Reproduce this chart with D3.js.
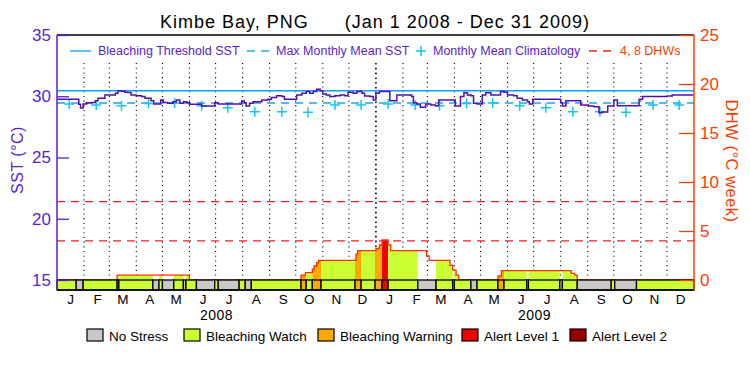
<!DOCTYPE html>
<html lang="en">
<head>
<meta charset="UTF-8">
<title>Kimbe Bay, PNG</title>
<script src="https://d3js.org/d3.v7.min.js"></script>
<style>
  body { margin: 0; background: #fff; }
  text { font-family: "Liberation Sans", Arial, sans-serif; }
</style>
</head>
<body>
<script>
// ---- data ----
const sstDates = ["2008-01-01","2008-01-21","2008-01-26","2008-01-28","2008-01-31","2008-02-04","2008-02-10","2008-02-14","2008-02-17","2008-02-25",
  "2008-03-05","2008-03-08","2008-03-11","2008-03-15","2008-03-19","2008-03-22","2008-03-26","2008-04-01","2008-04-07","2008-04-11",
  "2008-04-18","2008-04-21","2008-04-26","2008-04-29","2008-05-02","2008-05-07","2008-05-13","2008-05-17","2008-05-21","2008-05-25",
  "2008-05-29","2008-06-01","2008-06-11","2008-06-15","2008-06-26","2008-06-30","2008-07-04","2008-07-27","2008-07-31","2008-08-03",
  "2008-08-05","2008-08-09","2008-08-13","2008-08-23","2008-08-30","2008-09-03","2008-09-09","2008-09-15","2008-09-18","2008-09-28",
  "2008-10-02","2008-10-08","2008-10-13","2008-10-17","2008-10-21","2008-10-25","2008-10-29","2008-11-01","2008-11-05","2008-11-09",
  "2008-11-15","2008-11-21","2008-11-26","2008-11-30","2008-12-06","2008-12-10","2008-12-16","2008-12-19","2008-12-25","2008-12-29",
  "2009-01-01","2009-01-05","2009-01-13","2009-01-17","2009-01-21","2009-01-25","2009-02-09","2009-02-11","2009-02-13","2009-02-17",
  "2009-02-21","2009-02-27","2009-03-05","2009-03-10","2009-03-14","2009-03-30","2009-04-02","2009-04-08","2009-04-12","2009-04-16",
  "2009-04-20","2009-04-23","2009-04-27","2009-05-03","2009-05-07","2009-05-13","2009-05-18","2009-05-24","2009-05-28","2009-06-01",
  "2009-06-08","2009-06-12","2009-06-18","2009-06-24","2009-06-26","2009-06-30","2009-07-19","2009-08-01","2009-08-03","2009-08-07",
  "2009-08-18","2009-08-24","2009-09-02","2009-09-08","2009-09-14","2009-09-18","2009-09-24","2009-10-01","2009-10-05","2009-10-26",
  "2009-10-30","2009-11-03","2009-12-01","2009-12-07","2009-12-31"];
const sstValues = [29.75,29.75,29.34,29.04,29.37,29.47,29.5,29.64,29.83,30.1,
  30.1,30.24,30.45,30.4,30.32,30.3,30.1,30.05,29.97,29.83,
  29.64,29.37,29.37,29.69,29.5,29.42,29.56,29.69,29.42,29.56,
  29.47,29.34,29.34,29.2,29.2,29.47,29.37,29.37,29.61,29.47,
  29.2,29.42,29.56,29.69,29.75,29.9,30.05,29.97,29.75,29.75,
  30.1,30.24,30.38,30.24,30.38,30.57,30.45,30.18,30.1,29.97,
  30.05,30.1,30.05,30.32,30.24,30.38,30.24,30.02,29.97,29.69,
  30.24,30.38,30.38,29.64,29.64,30.1,30.1,29.97,29.47,29.37,
  29.1,29.37,29.29,29.23,29.69,29.69,29.2,29.97,30.29,30.1,
  30.05,29.42,29.37,30.1,30.29,30.1,30.1,30.38,30.32,30.1,
  30.05,29.83,29.69,29.56,29.37,29.75,29.75,29.47,29.2,29.64,
  29.64,29.29,29.2,29.15,28.66,28.72,29.2,29.69,29.23,29.23,
  29.75,29.97,30.02,30.1,30.1];

const mmm = 29.45;                 // max monthly mean
const threshold = 30.45;           // bleaching threshold (MMM + 1)
const climValues = [29.37,29.29,29.23,29.4,29.45,29.23,29.07,28.74,28.74,28.69,29.29,29.29];
const dhwLevels = [4, 8];

// degree heating weeks, step series
const dhwDates = ["2008-01-01","2008-03-10","2008-06-01","2008-10-07","2008-10-12","2008-10-20","2008-10-22","2008-10-25","2008-10-27",
  "2008-12-09","2008-12-11","2009-01-01","2009-01-05","2009-01-08","2009-01-15","2009-01-18","2009-02-28","2009-03-03",
  "2009-03-27","2009-03-30","2009-04-03","2009-04-06","2009-05-21","2009-05-25","2009-08-13","2009-08-17","2009-08-20","2010-01-01"];
const dhwValues = [0,0.5,0,0.5,0.75,1.1,1.43,1.77,2.0,
  2.65,3.0,3.23,3.57,4.08,3.57,3.0,2.45,2.0,
  1.5,1.0,0.5,0,0.41,0.95,0.68,0.5,0,0];

// daily alert status: segment start dates and level (0 none,1 watch,2 warning,3 alert1,4 alert2)
const statusStarts = ["2008-01-01","2008-01-23","2008-01-31","2008-03-10","2008-03-12","2008-04-20","2008-04-27","2008-05-01","2008-05-14",
  "2008-05-25","2008-05-28","2008-06-09","2008-06-30","2008-07-04","2008-07-28","2008-08-04","2008-08-11","2008-10-07","2008-10-13",
  "2008-10-20","2008-10-30","2008-12-08","2008-12-15","2008-12-31","2009-01-08","2009-01-15","2009-02-18","2009-03-11","2009-03-30",
  "2009-04-01","2009-04-20","2009-04-27","2009-05-21","2009-05-28","2009-06-23","2009-06-25","2009-07-31","2009-08-03","2009-08-20",
  "2009-09-28","2009-10-02","2009-10-27"];
const statusLevels = [1,0,1,1,1,0,1,0,1,
  0,1,0,1,0,1,0,1,2,1,
  2,1,2,1,2,3,1,0,1,0,
  1,0,1,2,1,0,1,0,1,0,
  1,0,1];

const monthLabels = ["J","F","M","A","M","J","J","A","S","O","N","D"];
const years = [2008, 2009];
const legendItems = ["No Stress","Bleaching Watch","Bleaching Warning","Alert Level 1","Alert Level 2"];
const statusColors = ["#c8c8c8","#ccff33","#ffa800","#f00000","#960000"];

// ---- chart ----
const w = 750, h = 375;
const mLeft = 57, mRight = 694, mTop = 35, base = 280, mBottom = 290;
const purple = "#5a1ed2", orange = "#ff3c00";
const parse = d3.timeParse("%Y-%m-%d");

const svg = d3.select("body").append("svg").attr("width", w).attr("height", h);

const x = d3.scaleTime().domain([new Date(2008,0,1), new Date(2010,0,1)]).range([mLeft, mRight]);
const ySST = d3.scaleLinear().domain([15, 35]).range([base, mTop]);
const yDHW = d3.scaleLinear().domain([0, 25]).range([base, mTop]);

const sst = sstDates.map((d, i) => [parse(d), sstValues[i]]);
const dhw = dhwDates.map((d, i) => [parse(d), dhwValues[i]]);
const status = statusStarts.map((d, i) => ({
  start: parse(d),
  end: i < statusStarts.length - 1 ? parse(statusStarts[i+1]) : new Date(2010,0,1),
  level: statusLevels[i]
}));

// title
svg.append("text").attr("x", 375).attr("y", 28).attr("text-anchor", "middle")
  .style("font-size", "18px").style("letter-spacing", "1px").style("white-space", "pre")
  .text("Kimbe Bay, PNG      (Jan 1 2008 - Dec 31 2009)");

// month dotted grid
const monthStarts = d3.timeMonth.range(new Date(2008,1,1), new Date(2010,0,1));
svg.append("g").selectAll("line").data(monthStarts).enter().append("line")
  .attr("x1", d => x(d)).attr("x2", d => x(d))
  .attr("y1", 63).attr("y2", base)
  .attr("stroke", "#000")
  .attr("stroke-width", d => d.getMonth() === 0 ? 1.6 : 1.1)
  .attr("stroke-dasharray", d => d.getMonth() === 0 ? "1.6,3.2" : "1.1,3.6");

// DHW fill, coloured by status
const area = d3.area().curve(d3.curveStepAfter)
  .x(d => x(d[0])).y0(base).y1(d => yDHW(d[1]));
const defs = svg.append("defs");
status.forEach((s, i) => {
  if (s.level === 0) return;
  defs.append("clipPath").attr("id", "clip" + i).append("rect")
    .attr("x", x(s.start)).attr("width", x(s.end) - x(s.start))
    .attr("y", mTop).attr("height", base - mTop);
  svg.append("path").datum(dhw).attr("d", area)
    .attr("fill", statusColors[s.level]).attr("clip-path", "url(#clip" + i + ")");
});

// DHW outline
svg.append("path").datum(dhw)
  .attr("d", d3.line().curve(d3.curveStepAfter).x(d => x(d[0])).y(d => yDHW(d[1])))
  .attr("fill", "none").attr("stroke", "#ff3000").attr("stroke-width", 1.3);

// 4, 8 DHW lines
svg.append("g").selectAll("line").data(dhwLevels).enter().append("line")
  .attr("x1", mLeft).attr("x2", mRight)
  .attr("y1", d => yDHW(d)).attr("y2", d => yDHW(d))
  .attr("stroke", "#f02020").attr("stroke-width", 1.2).attr("stroke-dasharray", "8,6");

// threshold and MMM
svg.append("line").attr("x1", mLeft).attr("x2", mRight)
  .attr("y1", ySST(threshold)).attr("y2", ySST(threshold))
  .attr("stroke", "#0aa0ff").attr("stroke-width", 1.3);
svg.append("line").attr("x1", mLeft).attr("x2", mRight)
  .attr("y1", ySST(mmm)).attr("y2", ySST(mmm))
  .attr("stroke", "#1aa8f0").attr("stroke-width", 1.3).attr("stroke-dasharray", "8,6");

// monthly mean climatology crosses
const clim = [];
years.forEach(yr => climValues.forEach((v, m) => clim.push([new Date(yr, m, 15), v])));
svg.append("g").selectAll("path").data(clim).enter().append("path")
  .attr("d", d => `M${x(d[0]) - 5},${ySST(d[1])}h10M${x(d[0])},${ySST(d[1]) - 5}v10`)
  .attr("stroke", "#10c8f0").attr("stroke-width", 1.5);

// SST line
svg.append("path").datum(sst)
  .attr("d", d3.line().curve(d3.curveStepAfter).x(d => x(d[0])).y(d => ySST(d[1])))
  .attr("fill", "none").attr("stroke", "#5010b4").attr("stroke-width", 1.5);

// status bar
const bar = svg.append("g");
bar.selectAll("rect").data(status).enter().append("rect")
  .attr("x", d => x(d.start)).attr("width", d => x(d.end) - x(d.start))
  .attr("y", base).attr("height", mBottom - base)
  .attr("fill", d => statusColors[d.level])
  .attr("stroke", "#000").attr("stroke-width", 1.3);

// frame
svg.append("line").attr("x1", mLeft).attr("x2", mRight).attr("y1", mTop).attr("y2", mTop).attr("stroke", "#000").attr("stroke-width", 1.3);
svg.append("line").attr("x1", mLeft).attr("x2", mRight).attr("y1", mBottom).attr("y2", mBottom).attr("stroke", "#000").attr("stroke-width", 1.3);

// left axis (SST)
const gL = svg.append("g").attr("transform", `translate(${mLeft},0)`);
gL.call(d3.axisLeft(ySST).tickValues(d3.range(15, 36, 1)).tickSize(-6).tickFormat(""));
gL.call(d3.axisLeft(ySST).tickValues([15,20,25,30,35]).tickSizeInner(-12).tickSizeOuter(0).tickPadding(6))
gL.selectAll(".domain").remove();
gL.selectAll("line").attr("stroke", purple).attr("stroke-width", 1.3);
gL.selectAll("text").attr("fill", purple).style("font-size", "17px").style("font-family", "Liberation Sans, sans-serif");
gL.append("line").attr("y1", mTop).attr("y2", mBottom).attr("stroke", purple).attr("stroke-width", 1.5);
svg.append("text").attr("transform", "translate(23,160) rotate(-90)").attr("text-anchor", "middle")
  .attr("fill", purple).style("font-size", "16px").style("letter-spacing", "0.5px").text("SST (°C)");

// right axis (DHW)
const gR = svg.append("g").attr("transform", `translate(${mRight},0)`);
gR.call(d3.axisRight(yDHW).tickValues(d3.range(0, 26, 1)).tickSize(-8).tickFormat(""));
gR.call(d3.axisRight(yDHW).tickValues([0,5,10,15,20,25]).tickSizeInner(-15).tickSizeOuter(0).tickPadding(6));
gR.selectAll(".domain").remove();
gR.selectAll("line").attr("stroke", orange).attr("stroke-width", 1.3);
gR.selectAll("text").attr("fill", orange).style("font-size", "17px").style("font-family", "Liberation Sans, sans-serif");
gR.append("line").attr("y1", mTop).attr("y2", mBottom).attr("stroke", orange).attr("stroke-width", 1.5);
svg.append("text").attr("transform", "translate(726,161) rotate(90)").attr("text-anchor", "middle")
  .attr("fill", orange).style("font-size", "16.5px").style("letter-spacing", "0.5px").text("DHW (°C week)");

// month labels and years
const monthMids = [];
years.forEach(yr => d3.range(12).forEach(m => monthMids.push(new Date(yr, m, 16))));
const gX = svg.append("g").attr("transform", `translate(0,${mBottom})`)
  .call(d3.axisBottom(x).tickValues(monthMids).tickSize(0).tickPadding(4)
    .tickFormat(d => monthLabels[d.getMonth()]));
gX.select(".domain").remove();
gX.selectAll("text").style("font-size", "13.5px").style("font-family", "Liberation Sans, sans-serif").attr("fill", "#000");
svg.append("g").selectAll("text").data(years).enter().append("text")
  .attr("x", d => x(new Date(d, 6, 2))).attr("y", 320).attr("text-anchor", "middle")
  .style("font-size", "14px").style("letter-spacing", "0.5px").text(d => d);

// top legend
const lg = svg.append("g").style("font-size", "12.5px");
lg.append("line").attr("x1", 70).attr("x2", 91).attr("y1", 51).attr("y2", 51).attr("stroke", "#0aa0ff").attr("stroke-width", 1.3);
lg.append("text").attr("x", 98).attr("y", 55).attr("fill", purple).text("Bleaching Threshold SST");
lg.append("line").attr("x1", 247).attr("x2", 271).attr("y1", 51).attr("y2", 51).attr("stroke", "#1aa8f0").attr("stroke-width", 1.3).attr("stroke-dasharray", "8,6");
lg.append("text").attr("x", 276).attr("y", 55).attr("fill", purple).text("Max Monthly Mean SST");
lg.append("path").attr("d", "M416,51h10M421,46v10").attr("stroke", "#10c8f0").attr("stroke-width", 1.5);
lg.append("text").attr("x", 433).attr("y", 55).attr("fill", purple).text("Monthly Mean Climatology");
lg.append("line").attr("x1", 589).attr("x2", 613).attr("y1", 51).attr("y2", 51).attr("stroke", "#f02020").attr("stroke-width", 1.3).attr("stroke-dasharray", "8,6");
lg.append("text").attr("x", 620).attr("y", 55).attr("fill", orange).text("4, 8 DHWs");

// bottom legend
const legendX = [87, 184, 318, 462, 570];
const bl = svg.append("g").selectAll("g").data(legendItems).enter().append("g")
  .attr("transform", (d, i) => `translate(${legendX[i]},329)`);
bl.append("rect").attr("width", 16).attr("height", 12)
  .attr("fill", (d, i) => statusColors[i]).attr("stroke", "#000").attr("stroke-width", 1.2);
bl.append("text").attr("x", 22).attr("y", 12).style("font-size", "13.5px").text(d => d);
</script>
</body>
</html>
